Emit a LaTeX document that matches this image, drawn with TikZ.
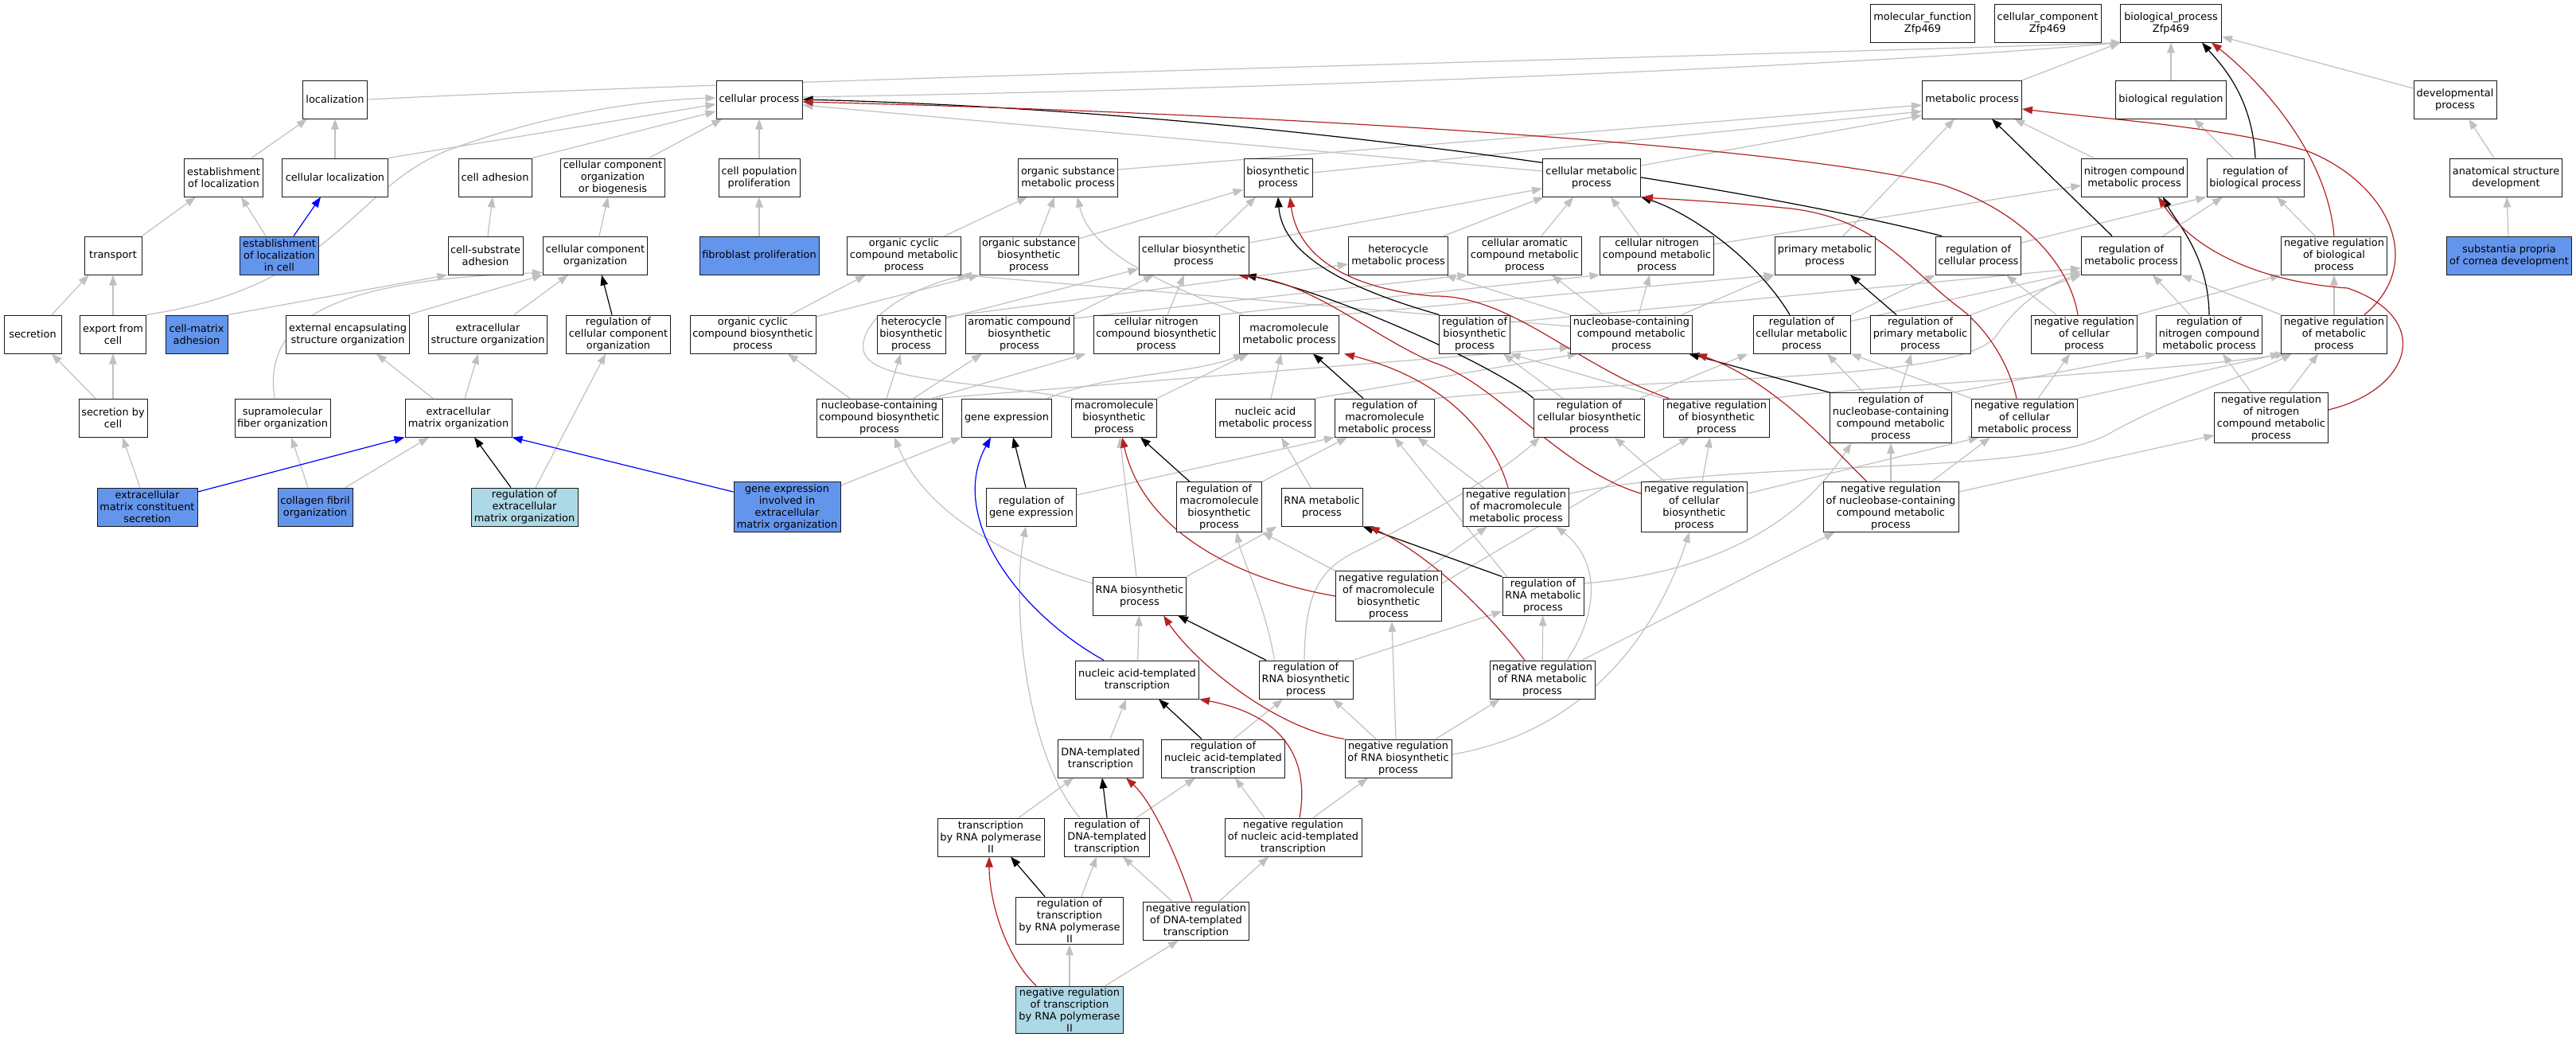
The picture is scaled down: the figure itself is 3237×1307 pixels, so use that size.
\documentclass[tikz,border=0pt]{standalone}
\usepackage{fontspec}
\setmainfont{DejaVu Sans}
\usetikzlibrary{arrows.meta,backgrounds}
\definecolor{termblue}{RGB}{100,149,237}
\definecolor{termlight}{RGB}{173,216,230}
\definecolor{isagray}{RGB}{192,192,192}
\definecolor{negred}{RGB}{178,34,34}
\definecolor{partblue}{RGB}{0,0,255}
\tikzset{
  term/.style={draw=black!90, line width=1pt, fill=white, align=center, inner xsep=3pt, inner ysep=2.5pt, minimum height=48pt, font=\fontsize{12.9}{15}\selectfont},
  annot/.style={term, fill=termblue},
  annotlight/.style={term, fill=termlight},
  isa/.style={draw=isagray, line width=1.2pt, -{Triangle[length=13pt,width=9.5pt]}},
  reg/.style={isa, draw=black},
  negreg/.style={isa, draw=negred},
  partof/.style={isa, draw=partblue}
}
\begin{document}
\begin{tikzpicture}[x=1pt,y=-1pt]
\useasboundingbox (0,0) rectangle (3237,1307);
\node[term, minimum width=131pt] (mf) at (2416,29) {molecular\_function\\Zfp469};
\node[term, minimum width=134pt] (cc) at (2573,29) {cellular\_component\\Zfp469};
\node[term, minimum width=127pt] (bp) at (2728,29) {biological\_process\\Zfp469};
\node[term, minimum width=81pt] (loc) at (421,125) {localization};
\node[term, minimum width=108pt] (cp) at (954,125) {cellular process};
\node[term, minimum width=125pt] (mp) at (2478,125) {metabolic process};
\node[term, minimum width=139pt] (breg) at (2728,125) {biological regulation};
\node[term, minimum width=104pt] (dev) at (3085,125) {developmental\\process};
\node[term, minimum width=99pt] (estloc) at (281,223) {establishment\\of localization};
\node[term, minimum width=133pt] (cloc) at (421,223) {cellular localization};
\node[term, minimum width=92pt] (cadh) at (622,223) {cell adhesion};
\node[term, minimum width=130pt] (ccob) at (770,223) {cellular component\\organization\\or biogenesis};
\node[term, minimum width=102pt] (cpp) at (954,223) {cell population\\proliferation};
\node[term, minimum width=125pt] (osmp) at (1342,223) {organic substance\\metabolic process};
\node[term, minimum width=86pt] (bsp) at (1606,223) {biosynthetic\\process};
\node[term, minimum width=123pt] (cmp) at (2000,223) {cellular metabolic\\process};
\node[term, minimum width=131pt] (ncmp) at (2682,223) {nitrogen compound\\metabolic process};
\node[term, minimum width=122pt] (rbp) at (2834,223) {regulation of\\biological process};
\node[term, minimum width=141pt] (asd) at (3149,223) {anatomical structure\\development};
\node[term, minimum width=72pt] (transp) at (142,321) {transport};
\node[annot, minimum width=99pt] (estcell) at (351,321) {establishment\\of localization\\in cell};
\node[term, minimum width=94pt] (csadh) at (610,321) {cell-substrate\\adhesion};
\node[term, minimum width=131pt] (cco) at (748,321) {cellular component\\organization};
\node[annot, minimum width=150pt] (fibro) at (954,321) {fibroblast proliferation};
\node[term, minimum width=141pt] (occmp) at (1136,321) {organic cyclic\\compound metabolic\\process};
\node[term, minimum width=122pt] (osbp) at (1293,321) {organic substance\\biosynthetic\\process};
\node[term, minimum width=138pt] (cbp) at (1500,321) {cellular biosynthetic\\process};
\node[term, minimum width=125pt] (hmp) at (1757,321) {heterocycle\\metabolic process};
\node[term, minimum width=142pt] (camp) at (1916,321) {cellular aromatic\\compound metabolic\\process};
\node[term, minimum width=141pt] (cnmp) at (2082,321) {cellular nitrogen\\compound metabolic\\process};
\node[term, minimum width=126pt] (pmp) at (2293,321) {primary metabolic\\process};
\node[term, minimum width=107pt] (rcp) at (2486,321) {regulation of\\cellular process};
\node[term, minimum width=125pt] (rmp) at (2678,321) {regulation of\\metabolic process};
\node[term, minimum width=133pt] (nrbp) at (2933,321) {negative regulation\\of biological\\process};
\node[annot, minimum width=157pt] (subst) at (3153,321) {substantia propria\\of cornea development};
\node[term, minimum width=72pt] (secr) at (41,420) {secretion};
\node[term, minimum width=83pt] (export) at (142,420) {export from\\cell};
\node[annot, minimum width=78pt] (cmadh) at (247,420) {cell-matrix\\adhesion};
\node[term, minimum width=155pt] (eeso) at (437,420) {external encapsulating\\structure organization};
\node[term, minimum width=149pt] (eso) at (613,420) {extracellular\\structure organization};
\node[term, minimum width=130pt] (rcco) at (777,420) {regulation of\\cellular component\\organization};
\node[term, minimum width=158pt] (occbp) at (946,420) {organic cyclic\\compound biosynthetic\\process};
\node[term, minimum width=86pt] (hbp) at (1145,420) {heterocycle\\biosynthetic\\process};
\node[term, minimum width=136pt] (acbp) at (1281,420) {aromatic compound\\biosynthetic\\process};
\node[term, minimum width=158pt] (cnbp) at (1453,420) {cellular nitrogen\\compound biosynthetic\\process};
\node[term, minimum width=125pt] (mmp) at (1620,420) {macromolecule\\metabolic process};
\node[term, minimum width=88pt] (rbsp) at (1853,420) {regulation of\\biosynthetic\\process};
\node[term, minimum width=153pt] (nbmp) at (2050,420) {nucleobase-containing\\compound metabolic\\process};
\node[term, minimum width=122pt] (rcmp) at (2264,420) {regulation of\\cellular metabolic\\process};
\node[term, minimum width=126pt] (rpmp) at (2413,420) {regulation of\\primary metabolic\\process};
\node[term, minimum width=133pt] (nrcp) at (2619,420) {negative regulation\\of cellular\\process};
\node[term, minimum width=132pt] (rncmp) at (2776,420) {regulation of\\nitrogen compound\\metabolic process};
\node[term, minimum width=133pt] (nrmp) at (2933,420) {negative regulation\\of metabolic\\process};
\node[term, minimum width=86pt] (secrcell) at (142,525) {secretion by\\cell};
\node[term, minimum width=120pt] (sfo) at (355,525) {supramolecular\\fiber organization};
\node[term, minimum width=134pt] (ecmo) at (576,525) {extracellular\\matrix organization};
\node[term, minimum width=158pt] (nbbp) at (1105,525) {nucleobase-containing\\compound biosynthetic\\process};
\node[term, minimum width=113pt] (gexp) at (1265,525) {gene expression};
\node[term, minimum width=107pt] (mbp) at (1400,525) {macromolecule\\biosynthetic\\process};
\node[term, minimum width=125pt] (namp) at (1590,525) {nucleic acid\\metabolic process};
\node[term, minimum width=125pt] (rmmp) at (1740,525) {regulation of\\macromolecule\\metabolic process};
\node[term, minimum width=139pt] (rcbp) at (1997,525) {regulation of\\cellular biosynthetic\\process};
\node[term, minimum width=133pt] (nrbsp) at (2157,525) {negative regulation\\of biosynthetic\\process};
\node[term, minimum width=152pt] (rnbmp) at (2376,525) {regulation of\\nucleobase-containing\\compound metabolic\\process};
\node[term, minimum width=133pt] (nrcmp) at (2544,525) {negative regulation\\of cellular\\metabolic process};
\node[term, minimum width=142pt] (nrncmp) at (2854,525) {negative regulation\\of nitrogen\\compound metabolic\\process};
\node[annot, minimum width=126pt] (ecmsec) at (185,637) {extracellular\\matrix constituent\\secretion};
\node[annot, minimum width=94pt] (cfo) at (396,637) {collagen fibril\\organization};
\node[annotlight, minimum width=134pt] (recmo) at (659,637) {regulation of\\extracellular\\matrix organization};
\node[annot, minimum width=134pt] (gecmo) at (989,637) {gene expression\\involved in\\extracellular\\matrix organization};
\node[term, minimum width=113pt] (rgexp) at (1296,637) {regulation of\\gene expression};
\node[term, minimum width=107pt] (rmbp) at (1532,637) {regulation of\\macromolecule\\biosynthetic\\process};
\node[term, minimum width=102pt] (rnamp) at (1661,637) {RNA metabolic\\process};
\node[term, minimum width=133pt] (nrmmp) at (1905,637) {negative regulation\\of macromolecule\\metabolic process};
\node[term, minimum width=133pt] (nrcbp) at (2129,637) {negative regulation\\of cellular\\biosynthetic\\process};
\node[term, minimum width=170pt] (nrnbmp) at (2376,637) {negative regulation\\of nucleobase-containing\\compound metabolic\\process};
\node[term, minimum width=117pt] (rnabp) at (1432,749) {RNA biosynthetic\\process};
\node[term, minimum width=133pt] (nrmbp) at (1745,749) {negative regulation\\of macromolecule\\biosynthetic\\process};
\node[term, minimum width=102pt] (rrnamp) at (1939,749) {regulation of\\RNA metabolic\\process};
\node[term, minimum width=155pt] (natt) at (1429,854) {nucleic acid-templated\\transcription};
\node[term, minimum width=118pt] (rrnabp) at (1641,854) {regulation of\\RNA biosynthetic\\process};
\node[term, minimum width=132pt] (nrrnamp) at (1938,854) {negative regulation\\of RNA metabolic\\process};
\node[term, minimum width=107pt] (dtt) at (1383,953) {DNA-templated\\transcription};
\node[term, minimum width=155pt] (rnatt) at (1537,953) {regulation of\\nucleic acid-templated\\transcription};
\node[term, minimum width=134pt] (nrrnabp) at (1757,953) {negative regulation\\of RNA biosynthetic\\process};
\node[term, minimum width=134pt] (tpol) at (1245,1052) {transcription\\by RNA polymerase\\II};
\node[term, minimum width=107pt] (rdtt) at (1391,1052) {regulation of\\DNA-templated\\transcription};
\node[term, minimum width=172pt] (nrnatt) at (1625,1052) {negative regulation\\of nucleic acid-templated\\transcription};
\node[term, minimum width=135pt] (rtpol) at (1344,1157) {regulation of\\transcription\\by RNA polymerase\\II};
\node[term, minimum width=133pt] (nrdtt) at (1503,1157) {negative regulation\\of DNA-templated\\transcription};
\node[annotlight, minimum width=135pt] (nrtpol) at (1344,1269) {negative regulation\\of transcription\\by RNA polymerase\\II};
\begin{scope}[on background layer]
\draw[isa] (loc.east) .. controls (1000,98) and (2200,70) .. ([xshift=2pt]bp.south west);
\draw[isa] ([yshift=3pt]cp.east) .. controls (1600,112) and (2300,85) .. ([xshift=2pt]bp.south west);
\draw[isa] (mp) -- (bp);
\draw[isa] (breg) -- (bp);
\draw[isa] (dev) -- (bp);
\draw[isa] (estloc) -- (loc);
\draw[isa] (cloc) -- (loc);
\draw[isa] (cloc.north east) -- ([yshift=-6pt]cp.west);
\draw[isa] (cadh.north east) -- ([yshift=-15pt]cp.west);
\draw[isa] ([xshift=-20pt]ccob.north east) -- ([xshift=8pt]cp.south west);
\draw[isa] (export.north east) .. controls (420,360) and (440,240) .. (560,190) .. controls (680,145) and (800,126) .. ([yshift=2pt]cp.west);
\draw[isa] (cpp) -- (cp);
\draw[isa] ([yshift=8pt]cmp.west) -- ([yshift=-7pt]cp.east);
\draw[isa] ([yshift=10pt]osmp.east) -- ([yshift=-7pt]mp.west);
\draw[isa] ([yshift=6pt]bsp.east) -- ([yshift=-15pt]mp.west);
\draw[isa] ([yshift=15pt]cmp.east) -- ([yshift=-20pt]mp.west);
\draw[isa] ([xshift=23pt]pmp.north) -- ([xshift=-22pt]mp.south);
\draw[isa] ([xshift=-51pt]ncmp.north) -- ([xshift=53pt]mp.south);
\draw[isa] ([xshift=-28pt]rbp.north) -- ([xshift=29pt]breg.south);
\draw[isa] ([xshift=-15pt]asd.north) -- ([xshift=17pt]dev.south);
\draw[isa] (subst) -- (asd);
\draw[isa] (transp.north east) -- ([xshift=-35pt]estloc.south);
\draw[isa] ([xshift=-17pt]estcell.north) -- ([xshift=22pt]estloc.south);
\draw[isa] ([xshift=3pt]csadh.north) -- ([xshift=-3pt]cadh.south);
\draw[isa] ([xshift=5pt]cco.north) -- ([xshift=-6pt]ccob.south);
\draw[isa] (fibro) -- (cpp);
\draw[isa] ([xshift=51pt]occmp.north) -- ([xshift=-51pt]osmp.south);
\draw[isa] ([xshift=13pt]osbp.north) -- ([xshift=-17pt]osmp.south);
\draw[isa] ([yshift=21pt]osbp.east) -- ([yshift=-15pt]bsp.west);
\draw[isa] ([xshift=27pt]cbp.north) -- ([xshift=-28pt]bsp.south);
\draw[isa] ([yshift=16pt]cbp.east) -- ([yshift=-14pt]cmp.west);
\draw[isa] ([xshift=-6pt]hmp.north east) -- ([xshift=2pt]cmp.south west);
\draw[isa] ([xshift=21pt]camp.north) -- ([xshift=-23pt]cmp.south);
\draw[isa] ([xshift=-22pt]cnmp.north) -- ([xshift=24pt]cmp.south);
\draw[isa] ([yshift=14pt]cnmp.east) -- ([yshift=-10pt]ncmp.west);
\draw[isa] ([yshift=16pt]rcp.east) -- (rbp.south west);
\draw[isa] ([xshift=40pt]rmp.north) -- ([xshift=-41pt]rbp.south);
\draw[isa] ([xshift=-24pt]nrbp.north) -- ([xshift=27pt]rbp.south);
\draw[isa] ([xshift=24pt]secr.north) -- ([xshift=6pt]transp.south west);
\draw[isa] (export) -- (transp);
\draw[isa] (cmadh.north east) -- (csadh.south west);
\draw[isa] ([xshift=-2pt]eeso.north east) -- (cco.south west);
\draw[isa] ([xshift=33pt]eso.north) -- ([xshift=-34pt]cco.south);
\draw[isa] ([xshift=-10pt]sfo.north) .. controls (330,400) and (420,352) .. ([yshift=3pt]cco.south west);
\draw[isa] ([xshift=47pt]occbp.north) -- ([xshift=-48pt]occmp.south);
\draw[isa] ([yshift=22pt]occbp.east) -- (osbp.south west);
\draw[isa] ([yshift=22pt]hbp.east) -- ([yshift=-11pt]hmp.west);
\draw[isa] ([yshift=20pt]hbp.east) -- ([yshift=-17pt]cbp.west);
\draw[isa] ([xshift=68pt]acbp.north) -- ([xshift=-50pt]cbp.south);
\draw[isa] ([yshift=20pt]acbp.east) -- (camp.south west);
\draw[isa] ([xshift=14pt]cnbp.north) -- ([xshift=-12pt]cbp.south);
\draw[isa] (cnbp.north east) -- (cnmp.south west);
\draw[isa] ([xshift=5pt]mmp.north west) .. controls (1470,360) and (1370,320) .. ([xshift=12pt]osmp.south);
\draw[isa] (mmp.north east) -- (pmp.south west);
\draw[isa] ([yshift=15pt]rbsp.east) -- ([yshift=-16pt]rmp.west);
\draw[isa] (rcmp.north east) -- (rcp.south west);
\draw[isa] ([yshift=-8pt]rcmp.north east) -- ([yshift=-20pt]rmp.west);
\draw[isa] (rpmp.north east) -- (rmp.south west);
\draw[isa] ([xshift=-35pt]nrcp.north) -- ([xshift=35pt]rcp.south);
\draw[isa] (nrcp.north east) -- (nrbp.south west);
\draw[isa] ([xshift=-24pt]rncmp.north) -- ([xshift=27pt]rmp.south);
\draw[isa] (nrmp.north west) -- (rmp.south east);
\draw[isa] (nrmp) -- (nrbp);
\draw[isa] ([yshift=10pt]nbmp.west) -- (occmp.south east);
\draw[isa] (nbmp.north west) -- ([xshift=-4pt]hmp.south east);
\draw[isa] ([xshift=-35pt]nbmp.north) -- ([xshift=34pt]camp.south);
\draw[isa] ([xshift=9pt]nbmp.north) -- ([xshift=-9pt]cnmp.south);
\draw[isa] ([xshift=-14pt]nbmp.north east) -- (pmp.south west);
\draw[isa] (rmmp.north east) .. controls (2150,470) and (2470,480) .. (2510,420) .. controls (2540,375) and (2580,355) .. ([yshift=2pt]rmp.south west);
\draw[isa] ([xshift=-33pt]rcbp.north) -- ([xshift=36pt]rbsp.south);
\draw[isa] ([xshift=-6pt]rcbp.north east) -- ([xshift=-6pt]rcmp.south west);
\draw[isa] (nrbsp.north west) -- (rbsp.south east);
\draw[isa] (nrbsp.north east) .. controls (2400,480) and (2700,470) .. ([xshift=6pt]nrmp.south west);
\draw[isa] ([xshift=-34pt]rnbmp.north) -- ([xshift=32pt]rcmp.south);
\draw[isa] ([xshift=11pt]rnbmp.north) -- ([xshift=-11pt]rpmp.south);
\draw[isa] (rnbmp.north east) -- (rncmp.south west);
\draw[isa] (nrcmp.north west) -- (rcmp.south east);
\draw[isa] ([xshift=17pt]nrcmp.north) -- ([xshift=-18pt]nrcp.south);
\draw[isa] (nrcmp.north east) -- (nrmp.south west);
\draw[isa] ([xshift=-25pt]nrncmp.north) -- ([xshift=17pt]rncmp.south);
\draw[isa] ([xshift=22pt]nrncmp.north) -- ([xshift=-20pt]nrmp.south);
\draw[isa] ([xshift=-22pt]secrcell.north) -- ([xshift=24pt]secr.south);
\draw[isa] (secrcell) -- (export);
\draw[isa] ([xshift=-32pt]ecmo.north) -- ([xshift=36pt]eeso.south);
\draw[isa] ([xshift=8pt]ecmo.north) -- ([xshift=-12pt]eso.south);
\draw[isa] ([xshift=-37pt]nbbp.north) -- ([xshift=44pt]occbp.south);
\draw[isa] ([xshift=9pt]nbbp.north) -- ([xshift=-13pt]hbp.south);
\draw[isa] ([xshift=43pt]nbbp.north) -- ([xshift=-47pt]acbp.south);
\draw[isa] ([xshift=-13pt]nbbp.north east) -- ([xshift=-9pt]cnbp.south west);
\draw[isa] ([xshift=-8pt]nbbp.north east) -- ([yshift=8pt]nbmp.south west);
\draw[isa] ([xshift=-6pt]gexp.north east) .. controls (1390,470) and (1500,470) .. ([xshift=6pt]mmp.south west);
\draw[isa] (mbp.north east) -- ([xshift=12pt]mmp.south west);
\draw[isa] ([xshift=3pt]mbp.north west) .. controls (1200,475) and (1075,480) .. (1085,430) .. controls (1093,385) and (1170,355) .. ([xshift=-14pt]osbp.south west);
\draw[isa] ([xshift=7pt]namp.north) -- ([xshift=-10pt]mmp.south);
\draw[isa] (namp.north east) -- ([xshift=10pt]nbmp.south west);
\draw[isa] ([yshift=15pt]rgexp.east) -- (rmmp.south west);
\draw[isa] (rmbp.north east) -- ([xshift=16pt]rmmp.south west);
\draw[isa] ([xshift=-14pt]rnamp.north) -- ([xshift=20pt]namp.south);
\draw[isa] ([xshift=-41pt]nrmmp.north) -- ([xshift=41pt]rmmp.south);
\draw[isa] ([yshift=17pt]nrmmp.east) .. controls (2200,575) and (2550,600) .. (2650,545) .. controls (2740,495) and (2830,470) .. ([xshift=14pt]nrmp.south west);
\draw[isa] ([xshift=-37pt]nrcbp.north) -- ([xshift=32pt]rcbp.south);
\draw[isa] ([xshift=10pt]nrcbp.north) -- ([xshift=-8pt]nrbsp.south);
\draw[isa] ([yshift=17pt]nrcbp.east) -- ([xshift=10pt]nrcmp.south west);
\draw[isa] (nrnbmp) -- (rnbmp);
\draw[isa] ([xshift=51pt]nrnbmp.north) -- ([xshift=-43pt]nrcmp.south);
\draw[isa] ([yshift=19pt]nrnbmp.east) -- ([yshift=-22pt]nrncmp.west);
\draw[isa] ([xshift=-9pt]ecmsec.north) -- ([xshift=12pt]secrcell.south);
\draw[isa] ([xshift=-9pt]cfo.north) -- ([xshift=11pt]sfo.south);
\draw[isa] ([xshift=38pt]cfo.north) -- ([xshift=-37pt]ecmo.south);
\draw[isa] ([xshift=14pt]recmo.north) -- ([xshift=-16pt]rcco.south);
\draw[isa] ([yshift=27pt]gecmo.east) -- (gexp.south west);
\draw[isa] ([xshift=-4pt]rnabp.north) -- ([xshift=7pt]mbp.south);
\draw[isa] ([yshift=16pt]rnabp.west) .. controls (1260,700) and (1160,640) .. ([xshift=19pt]nbbp.south);
\draw[isa] (rnabp.north east) -- ([xshift=-5pt]rnamp.south west);
\draw[isa] (nrmbp.north west) -- (rmbp.south east);
\draw[isa] ([xshift=45pt]nrmbp.north) -- ([xshift=-36pt]nrmmp.south);
\draw[isa] ([yshift=16pt]nrmbp.east) -- ([xshift=-34pt]nrbsp.south);
\draw[isa] ([xshift=6pt]rrnamp.north west) -- ([xshift=12pt]rmmp.south);
\draw[isa] ([yshift=16pt]rrnamp.east) .. controls (2150,720) and (2260,660) .. ([xshift=27pt]rnbmp.south west);
\draw[isa] (rrnabp.north east) -- ([yshift=-19pt]rrnamp.west);
\draw[isa] ([xshift=-2pt]rrnabp.north) .. controls (1640,760) and (1650,720) .. (1700,695) .. controls (1770,660) and (1880,600) .. ([xshift=8pt]rcbp.south west);
\draw[isa] ([xshift=20pt]rrnabp.north west) .. controls (1590,760) and (1560,700) .. ([xshift=22pt]rmbp.south);
\draw[isa] (nrrnamp) -- (rrnamp);
\draw[isa] ([xshift=31pt]nrrnamp.north) .. controls (2015,760) and (2005,700) .. ([xshift=50pt]nrmmp.south);
\draw[isa] ([xshift=50pt]nrrnamp.north) -- ([xshift=15pt]nrnbmp.south west);
\draw[isa] (natt) -- (rnabp);
\draw[isa] ([xshift=12pt]dtt.north) -- ([xshift=-14pt]natt.south);
\draw[isa] ([xshift=13pt]rnatt.north) -- ([xshift=-29pt]rrnabp.south);
\draw[isa] ([xshift=-28pt]nrrnabp.north) -- ([xshift=34pt]rrnabp.south);
\draw[isa] ([xshift=47pt]nrrnabp.north) -- ([xshift=-53pt]nrrnamp.south);
\draw[isa] ([xshift=-3pt]nrrnabp.north) -- ([xshift=4pt]nrmbp.south);
\draw[isa] ([yshift=5pt]nrrnabp.east) .. controls (1990,920) and (2080,800) .. ([xshift=-6pt]nrcbp.south);
\draw[isa] ([xshift=35pt]tpol.north) -- ([xshift=-34pt]dtt.south);
\draw[isa] ([xshift=37pt]rdtt.north) -- ([xshift=-35pt]rnatt.south);
\draw[isa] ([xshift=-34pt]rdtt.north) .. controls (1290,950) and (1270,760) .. ([xshift=-7pt]rgexp.south);
\draw[isa] ([xshift=-36pt]nrnatt.north) -- ([xshift=15pt]rnatt.south);
\draw[isa] ([xshift=25pt]nrnatt.north) -- ([xshift=-38pt]nrrnabp.south);
\draw[isa] ([xshift=15pt]rtpol.north) -- ([xshift=-13pt]rdtt.south);
\draw[isa] ([xshift=-30pt]nrdtt.north) -- ([xshift=20pt]rdtt.south);
\draw[isa] ([xshift=29pt]nrdtt.north) -- ([xshift=-31pt]nrnatt.south);
\draw[isa] (nrtpol) -- (rtpol);
\draw[isa] ([xshift=45pt]nrtpol.north) -- ([xshift=-22pt]nrdtt.south);
\draw[reg] ([xshift=8pt]rcp.north west) .. controls (2200,235) and (1600,140) .. (cp.east);
\draw[reg] ([xshift=-8pt]rcco.north) -- ([xshift=8pt]cco.south);
\draw[reg] ([xshift=-17pt]recmo.north) -- ([xshift=20pt]ecmo.south);
\draw[reg] ([xshift=-7pt]rgexp.north) -- ([xshift=8pt]gexp.south);
\draw[reg] ([xshift=-37pt]rmbp.north) -- ([xshift=33pt]mbp.south);
\draw[reg] ([xshift=-50pt]rrnabp.north) -- ([xshift=48pt]rnabp.south);
\draw[reg] ([xshift=-27pt]rnatt.north) -- ([xshift=27pt]natt.south);
\draw[reg] (rdtt.north) -- ([xshift=2pt]dtt.south);
\draw[reg] ([xshift=-31pt]rtpol.north) -- ([xshift=25pt]tpol.south);
\draw[reg] (rrnamp.north west) -- (rnamp.south east);
\draw[reg] ([xshift=-27pt]rmmp.north) -- ([xshift=30pt]mmp.south);
\draw[reg] (rbsp.north west) .. controls (1720,370) and (1612,330) .. (bsp.south);
\draw[reg] (rcbp.north west) .. controls (1880,460) and (1680,370) .. ([xshift=-4pt]cbp.south east);
\draw[reg] ([xshift=-15pt]rcmp.north) .. controls (2210,330) and (2130,270) .. (cmp.south east);
\draw[reg] (rnbmp.north west) -- ([xshift=-5pt]nbmp.south east);
\draw[reg] ([xshift=-30pt]rpmp.north) -- ([xshift=32pt]pmp.south);
\draw[reg] ([xshift=-24pt]rmp.north) -- ([xshift=25pt]mp.south);
\draw[reg] (rncmp.north) .. controls (2775,320) and (2735,280) .. ([xshift=36pt]ncmp.south);
\draw[reg] (rbp.north) .. controls (2830,120) and (2790,80) .. ([xshift=-25pt]bp.south east);
\draw[negreg] ([xshift=-8pt]nrcp.north) .. controls (2600,330) and (2540,265) .. (2440,232) .. controls (2200,175) and (1500,140) .. ([yshift=-3pt]cp.east);
\draw[negreg] ([xshift=38pt]nrmp.north) .. controls (3050,330) and (3000,230) .. (2900,190) .. controls (2800,160) and (2650,150) .. ([yshift=-12pt]mp.east);
\draw[negreg] (nrbp.north) .. controls (2925,200) and (2850,110) .. ([xshift=-13pt]bp.south east);
\draw[negreg] ([yshift=10pt]nrncmp.east) .. controls (3030,490) and (3060,400) .. (2950,362) .. controls (2850,355) and (2760,320) .. ([xshift=30pt]ncmp.south);
\draw[negreg] ([xshift=7pt]nrbsp.north west) .. controls (1980,460) and (1900,370) .. (1800,372) .. controls (1690,362) and (1630,320) .. ([xshift=15pt]bsp.south);
\draw[negreg] ([yshift=17pt]nrcbp.west) .. controls (1960,590) and (1880,480) .. (1800,455) .. controls (1720,420) and (1650,355) .. ([xshift=-14pt]cbp.south east);
\draw[negreg] ([xshift=-10pt]nrcmp.north) .. controls (2525,460) and (2500,415) .. (2460,385) .. controls (2400,340) and (2360,275) .. (2250,262) .. controls (2150,252) and (2090,250) .. ([xshift=2pt]cmp.south east);
\draw[negreg] ([xshift=-30pt]nrnbmp.north) .. controls (2300,560) and (2230,480) .. ([xshift=5pt]nbmp.south east);
\draw[negreg] ([xshift=-10pt]nrmmp.north) .. controls (1880,560) and (1830,480) .. ([xshift=6pt]mmp.south east);
\draw[negreg] (nrmbp.west) .. controls (1540,725) and (1435,660) .. ([xshift=10pt]mbp.south);
\draw[negreg] ([xshift=-22pt]nrrnamp.north) .. controls (1870,770) and (1800,700) .. ([xshift=8pt]rnamp.south east);
\draw[negreg] ([xshift=-5pt]nrdtt.north) .. controls (1480,1080) and (1450,1010) .. ([xshift=32pt]dtt.south);
\draw[negreg] ([xshift=-42pt]nrtpol.north) .. controls (1262,1200) and (1243,1130) .. ([xshift=-2pt]tpol.south);
\draw[negreg] ([xshift=8pt]nrnatt.north) .. controls (1645,960) and (1620,900) .. (natt.south east);
\draw[negreg] (nrrnabp.north west) .. controls (1600,915) and (1500,830) .. ([xshift=30pt]rnabp.south);
\draw[partof] ([xshift=18pt]estcell.north) -- ([xshift=-18pt]cloc.south);
\draw[partof] ([yshift=19pt]ecmsec.east) -- (ecmo.south west);
\draw[partof] ([yshift=19pt]gecmo.west) -- (ecmo.south east);
\draw[partof] ([xshift=-42pt]natt.north) .. controls (1280,770) and (1190,650) .. ([xshift=-20pt]gexp.south);
\end{scope}
\end{tikzpicture}
\end{document}
